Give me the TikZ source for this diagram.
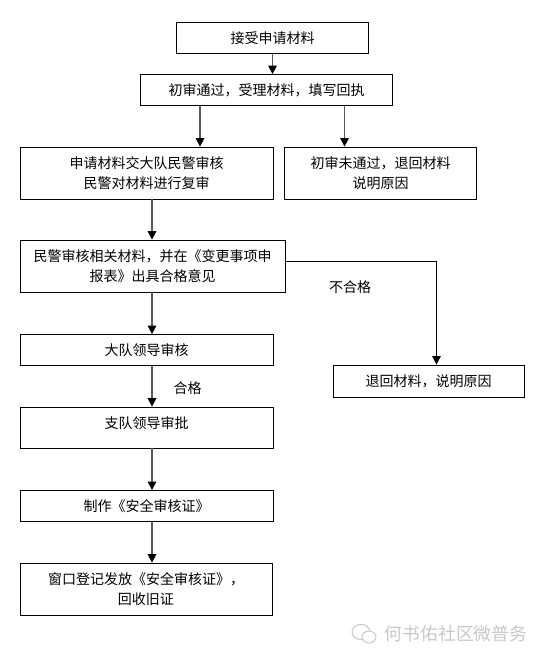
\documentclass[tikz,border=0pt]{standalone}
\usepackage{fontspec}
\setmainfont{Noto Sans CJK SC}
\usetikzlibrary{arrows.meta,positioning,calc}
\definecolor{Shaft}{HTML}{5A5A5A}
\definecolor{Mark}{HTML}{C8C8C8}
\begin{document}
\begin{tikzpicture}[x=1pt,y=-1pt,>={Triangle[width=8.5pt,length=8.5pt,black]},
    box/.style={draw=black,line width=0.8pt,inner sep=0pt,align=center,font=\fontsize{14}{20}\selectfont},
    lbl/.style={inner sep=0pt,font=\fontsize{14}{20}\selectfont}]
  \useasboundingbox (0,0) rectangle (544,661);
  \node[box,minimum width=192,minimum height=31] (accept) at (272.5,38) {接受申请材料};
  \node[box,minimum width=252,minimum height=31] (first) at (266.5,90) {初审通过，受理材料，填写回执};
  \node[box,minimum width=253,minimum height=52] (police) at (146.5,173) {申请材料交大队民警审核\\民警对材料进行复审};
  \node[box,minimum width=192,minimum height=52] (fail) at (380.5,173) {初审未通过，退回材料\\说明原因};
  \node[box,minimum width=265,minimum height=52] (form) at (152.5,266) {民警审核相关材料，并在《变更事项申\\报表》出具合格意见};
  \node[box,minimum width=253,minimum height=31] (brigade) at (146.5,350) {大队领导审核};
  \node[box,minimum width=253,minimum height=41,text depth=10pt] (detach) at (146.5,427.5) {支队领导审批};
  \node[box,minimum width=253,minimum height=31] (make) at (146.5,506) {制作《安全审核证》};
  \node[box,minimum width=252,minimum height=52] (issue) at (146,589) {窗口登记发放《安全审核证》，\\回收旧证};
  \node[box,minimum width=191,minimum height=32] (back) at (428.5,381) {退回材料，说明原因};
  \node[lbl] (nopass) at (350,287) {不合格};
  \node[lbl] (pass) at (187.5,388) {合格};
  \node[inner sep=0pt,font=\fontsize{17.8}{20}\selectfont,text=Mark] (mark) at (456,634) {何书佑社区微普务};
  \foreach \u/\v/\x in {accept/first/272.5,first/police/200,first/fail/344.5,police/form/152,form/brigade/152,brigade/detach/152,detach/make/152,make/issue/152}
    \draw[->,Shaft,line width=1.5pt] (\u.south -| \x,0)--(\v.north -| \x,0);
  \coordinate (turn) at (436.5,261);
  \draw[->,line width=0.8pt] (form.east |- turn)--(turn)--(back.north -| turn);
  % icon
  \draw[Mark,line width=1pt] (361,632) ellipse (9 and 7.5);
  \draw[Mark,line width=1pt,fill=white] (369,637) ellipse (7 and 6);
\end{tikzpicture}
\end{document}
